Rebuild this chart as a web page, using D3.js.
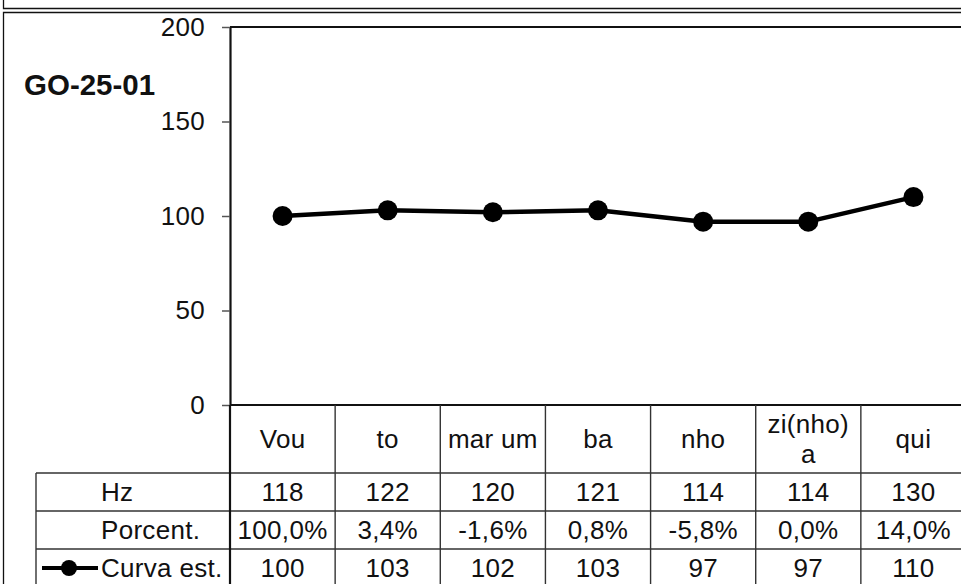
<!DOCTYPE html>
<html>
<head>
<meta charset="utf-8">
<script src="https://cdn.jsdelivr.net/npm/d3@7"></script>
<style>
  html, body { margin: 0; padding: 0; background: #fff; }
  svg { display: block; }
  text { font-family: "Liberation Sans", Arial, sans-serif; fill: #111; }
</style>
</head>
<body>
<svg id="chart" width="961" height="584"></svg>
<script>
// ---- data ----
const title = "GO-25-01";
const categories = ["Vou", "to", "mar um", "ba", "nho", "zi(nho) a", "qui"];
const hzValues = [118, 122, 120, 121, 114, 114, 130];
const pctLabels = ["100,0%", "3,4%", "-1,6%", "0,8%", "-5,8%", "0,0%", "14,0%"];
const curveValues = [100, 103, 102, 103, 97, 97, 110];
const yTicks = [0, 50, 100, 150, 200];
const rowNames = ["Hz", "Porcent.", "Curva est."];

// ---- layout ----
const W = 961, H = 584;
const plotL = 230, plotR = 966, plotT = 27, plotB = 405;
const headerH = 68, rowH = 38, tableL = 36;
const fs = 26;

const svg = d3.select("#chart");
svg.append("rect").attr("width", W).attr("height", H).attr("fill", "#fff");

// outer frames
const frame = svg.append("g").attr("stroke", "#111").attr("stroke-width", 1.3).attr("fill", "none");
frame.append("path").attr("d", `M3.5,0 V8.5 H${W}`);
frame.append("path").attr("d", `M${W},12.5 H3.5 V${H}`);

const x = d3.scaleBand().domain(categories).range([plotL, plotR]).paddingInner(0).paddingOuter(0);
const y = d3.scaleLinear().domain([0, 200]).range([plotB, plotT]);

// plot top border
svg.append("line").attr("x1", plotL).attr("x2", plotR).attr("y1", plotT).attr("y2", plotT)
  .attr("stroke", "#111").attr("stroke-width", 2.2);

// y axis
const yAxis = svg.append("g").attr("transform", `translate(${plotL},0)`)
  .call(d3.axisLeft(y).tickValues(yTicks).tickSize(8).tickSizeOuter(0).tickPadding(17));
yAxis.select(".domain").attr("stroke", "#111").attr("stroke-width", 2.2);
yAxis.selectAll(".tick line").attr("stroke", "#555").attr("stroke-width", 1.5);
yAxis.selectAll(".tick text").attr("font-size", fs).attr("font-family", "Liberation Sans, Arial, sans-serif")
  .attr("fill", "#111").attr("letter-spacing", 0.3);

// x axis baseline
svg.append("line").attr("x1", plotL).attr("x2", plotR).attr("y1", plotB).attr("y2", plotB)
  .attr("stroke", "#111").attr("stroke-width", 1.8);

// title
svg.append("text").attr("x", 24).attr("y", 95).attr("font-size", 29.5).attr("font-weight", "bold")
  .text(title);

// ---- data table ----
const grid = svg.append("g").attr("stroke", "#333").attr("stroke-width", 1.4);
const rowTops = rowNames.map((d, i) => plotB + headerH + i * rowH);
rowTops.forEach(t => {
  grid.append("line").attr("x1", tableL).attr("x2", plotR).attr("y1", t).attr("y2", t);
});
grid.append("line").attr("x1", tableL).attr("x2", tableL).attr("y1", rowTops[0]).attr("y2", H);
categories.forEach(c => {
  const xe = x(c) + x.bandwidth();
  grid.append("line").attr("x1", xe).attr("x2", xe).attr("y1", plotB).attr("y2", H);
});
grid.append("line").attr("x1", plotL).attr("x2", plotL).attr("y1", plotB).attr("y2", H)
  .attr("stroke", "#111").attr("stroke-width", 2.2);

// header labels (wrapped if too wide)
const headerCenter = plotB + headerH / 2;
categories.forEach(c => {
  const cx = x(c) + x.bandwidth() / 2;
  const t = svg.append("text").attr("text-anchor", "middle").attr("font-size", fs)
    .attr("letter-spacing", 0.3).attr("x", cx);
  t.text(c);
  let lines = [c];
  if (t.node().getComputedTextLength() > x.bandwidth() - 6 && c.includes(" ")) {
    lines = c.split(" ");
  }
  t.text(null);
  const lh = 30;
  lines.forEach((ln, i) => {
    t.append("tspan").attr("x", cx)
      .attr("y", headerCenter + (i - (lines.length - 1) / 2) * lh + fs * 0.35)
      .text(ln);
  });
});

// row labels and values
const rowData = [hzValues, pctLabels, curveValues];
rowData.forEach((vals, r) => {
  const cy = rowTops[r] + rowH / 2 + fs * 0.35;
  svg.append("text").attr("x", 101).attr("y", cy).attr("font-size", fs).attr("letter-spacing", 0.3)
    .text(rowNames[r]);
  svg.selectAll(null).data(vals).join("text")
    .attr("x", (d, i) => x(categories[i]) + x.bandwidth() / 2)
    .attr("y", cy).attr("text-anchor", "middle").attr("font-size", fs).attr("letter-spacing", 0.3)
    .text(d => d);
});

// legend key in table
const ly = rowTops[2] + rowH / 2;
svg.append("line").attr("x1", 42).attr("x2", 98).attr("y1", ly).attr("y2", ly)
  .attr("stroke", "#000").attr("stroke-width", 4);
svg.append("circle").attr("cx", 69).attr("cy", ly).attr("r", 8).attr("fill", "#000");

// ---- series ----
const line = d3.line().x((d, i) => x(categories[i]) + x.bandwidth() / 2).y(d => y(d));
svg.append("path").datum(curveValues).attr("d", line).attr("fill", "none")
  .attr("stroke", "#000").attr("stroke-width", 4.5).attr("stroke-linejoin", "round");
svg.selectAll(null).data(curveValues).join("circle")
  .attr("cx", (d, i) => x(categories[i]) + x.bandwidth() / 2).attr("cy", d => y(d))
  .attr("r", 10).attr("fill", "#000");
</script>
</body>
</html>
